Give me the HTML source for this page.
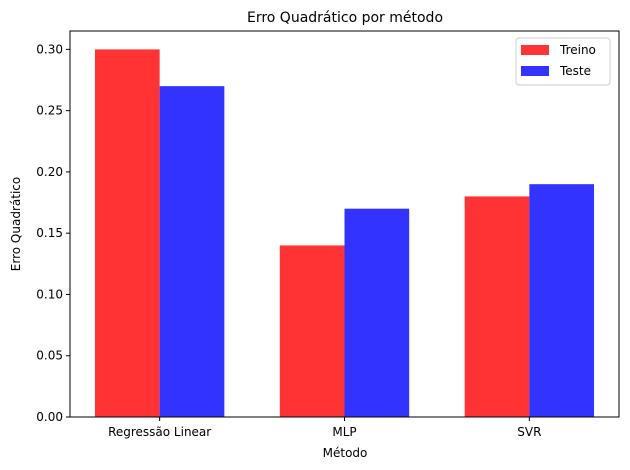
<!DOCTYPE html>
<html><head><meta charset="utf-8"><style>
body{margin:0;background:#fff;}
svg{display:block;font-family:"DejaVu Sans","Liberation Sans",sans-serif;}
</style></head><body>
<svg id="chart" width="630" height="470" xmlns="http://www.w3.org/2000/svg">
<rect width="630" height="470" fill="#fff"/>
<g id="bars"></g>
<g id="axes"></g>
<text x="345" y="22" font-size="14" text-anchor="middle">Erro Quadrático por método</text>
<text x="345" y="457" font-size="12" text-anchor="middle">Método</text>
<text transform="translate(20,224) rotate(-90)" font-size="12" text-anchor="middle">Erro Quadrático</text>
<g>
<rect x="516" y="38" width="94" height="47" rx="3" fill="#fff" stroke="#ccc"/>
<rect x="521" y="45" width="28" height="10" fill="#ff3333"/>
<text x="560" y="54" font-size="12">Treino</text>
<rect x="521" y="66" width="28" height="10" fill="#3333ff"/>
<text x="560" y="75" font-size="12">Teste</text>
</g>
</svg>
<script>
const categories=["Regressão Linear","MLP","SVR"];
const treino=[0.30,0.14,0.18];
const teste=[0.27,0.17,0.19];
const yTicks=[0,0.05,0.10,0.15,0.20,0.25,0.30];
const NS="http://www.w3.org/2000/svg";
const L=70,R=619,T=31,B=417,xmin=-0.31,xmax=2.66,ymax=0.315,bw=0.35;
const sx=v=>L+(v-xmin)/(xmax-xmin)*(R-L);
const sy=v=>B-v/ymax*(B-T);
function mk(tag,attrs,parent){const e=document.createElementNS(NS,tag);for(const k in attrs)e.setAttribute(k,attrs[k]);parent.appendChild(e);return e;}
const bars=document.getElementById('bars'),axes=document.getElementById('axes');
categories.forEach((c,i)=>{
 const r=mk('rect',{x:sx(i-bw/2),y:sy(treino[i]),width:sx(i+bw/2)-sx(i-bw/2),height:sy(0)-sy(treino[i]),fill:'#ff3333'},bars);
 
 
 const b=mk('rect',{x:sx(i+bw/2),y:sy(teste[i]),width:sx(i+1.5*bw)-sx(i+bw/2),height:sy(0)-sy(teste[i]),fill:'#3333ff'},bars);
 
 
 const tx=sx(i+bw/2);
 mk('line',{x1:tx,x2:tx,y1:B,y2:B+4,stroke:'#000'},axes);
 const t=mk('text',{x:tx,y:B+19,'font-size':12,'text-anchor':'middle'},axes);
 t.textContent=c;
 
 
});
yTicks.forEach(v=>{
 const y=sy(v);
 mk('line',{x1:L-4,x2:L,y1:y,y2:y,stroke:'#000'},axes);
 const t=mk('text',{x:L-7,y:y+4,'font-size':12,'text-anchor':'end'},axes);
 t.textContent=v.toFixed(2);
 
 
});
const f=mk('rect',{x:L,y:T,width:R-L,height:B-T,fill:'none',stroke:'#000','stroke-width':1},axes);


</script>
</body></html>
